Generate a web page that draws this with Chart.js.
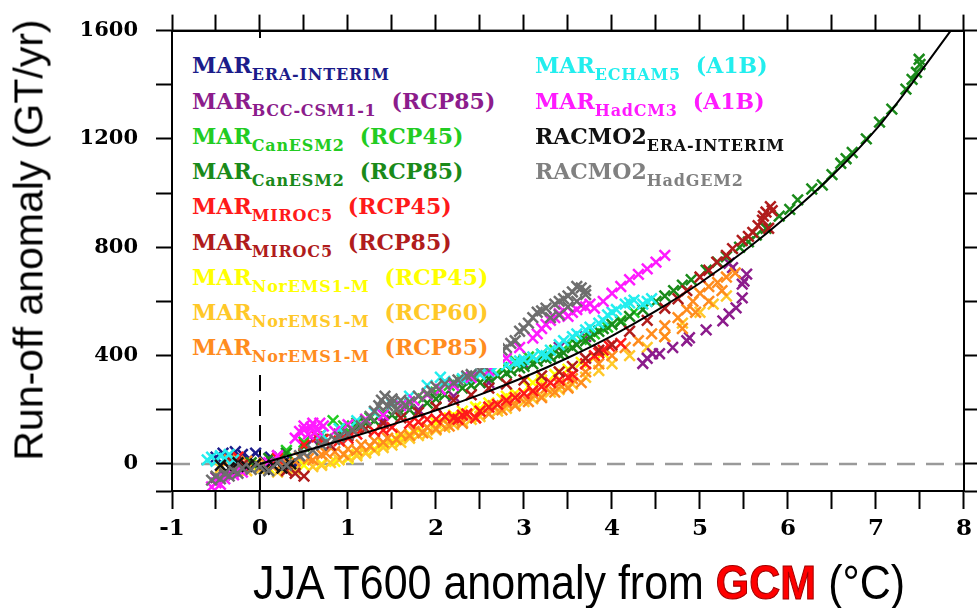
<!DOCTYPE html>
<html lang="en">
<head>
<meta charset="UTF-8">
<title>Run-off anomaly vs JJA T600 anomaly</title>
<script src="https://cdn.jsdelivr.net/npm/chart.js@4"></script>
<style>
  body { margin: 0; background: #fff; }
  #wrap { position: relative; width: 978px; height: 608px; overflow: hidden; }
  #chart { position: absolute; left: 0; top: 0; }
  #legbox { position: absolute; left: 174px; top: 38px; width: 329px; height: 330px; background: #fff; }
  .leg { position: absolute; font-family: "DejaVu Serif", serif; font-weight: bold; font-size: 22px;
         line-height: 22px; white-space: nowrap; }
  .leg sub { font-size: 16px; vertical-align: -7px; line-height: 0; letter-spacing: 0.8px; }
  .leg .scen { margin-left: 15px; }
  #ytitle { position: absolute; left: 29px; top: 240px; transform: translate(-50%, -50%) rotate(-90deg);
            font-family: "Liberation Sans", Arial, sans-serif; font-size: 41px; line-height: 1; white-space: nowrap; }
  #xtitle { position: absolute; left: 253px; top: 559px; transform: scaleY(1.12); transform-origin: left top;
            font-family: "Liberation Sans", Arial, sans-serif; font-size: 43px; line-height: 1; white-space: nowrap; }
  #xtitle .gcm { font-weight: bold; color: #ff0000; -webkit-text-stroke: 1px #a00000; }
</style>
</head>
<body>
<div id="wrap">
  <canvas id="chart" width="978" height="608"></canvas>
  <div id="legbox"></div>
  <div id="legend"></div>
  <div id="ytitle">Run-off anomaly (GT/yr)</div>
  <div id="xtitle">JJA T600 anomaly from <span class="gcm">GCM</span> (°C)</div>
</div>

<script>
// ---- data: [T600 anomaly (°C), run-off anomaly (GT/yr)] ----
const marEraInterim = [[-0.5,25],[-0.42,40],[-0.35,30],[-0.28,45],[-0.2,35],[-0.12,20],[-0.05,40],[0.05,10],[0.12,25],[0.2,5],[0.3,15],[0.4,-5]];
const marBcc85 = [[-0.5,-50],[-0.4,-40],[-0.3,-20],[0.2,30],[0.6,90],[1.0,120],[1.4,160],[1.8,200],[2.2,250],[2.6,300],[3.0,370],[3.4,430],[3.7,470],
  [4.35,371],[4.4,390],[4.46,407],[4.54,407],[4.69,430],[4.85,455],[4.88,466],[5.07,495],[5.26,528],[5.33,554],[5.41,576],[5.48,613],[5.48,664],[5.5,675],[5.53,701],[5.37,725],[5.33,741]];
const marCan45 = [[0.3,50],[0.5,80],[0.7,110],[0.83,160],[0.95,140],[1.1,150],[1.25,170],[1.4,185],[1.55,200],[1.7,220],[1.85,240],[2.0,265],[2.15,290],[2.3,310],
  [2.45,320],[2.6,335],[2.75,355],[2.9,380],[3.05,395],[3.2,405],[3.35,420],[3.5,440],[3.65,460],[3.8,480],[3.95,505],[4.1,530],[4.25,560]];
const marCan85 = [[-0.1,5],[0.1,20],[0.3,40],[0.5,65],[0.7,90],[0.9,110],[1.1,135],[1.3,160],[1.5,180],[1.7,200],[1.9,225],[2.1,255],[2.3,280],[2.5,300],[2.7,325],
  [2.85,345],[3.0,360],[3.15,380],[3.3,395],[3.45,410],[3.6,440],[3.75,470],[3.9,500],[4.0,515],[4.1,525],[4.2,545],[4.35,570],[4.5,600],[4.6,620],[4.7,640],
  [4.8,660],[4.9,680],[5.07,715],[5.2,745],[5.3,765],[5.45,800],[5.55,820],[5.64,845],[5.75,870],[5.9,915],[6.02,940],[6.11,975],[6.27,1015],[6.39,1030],
  [6.5,1068],[6.6,1110],[6.66,1127],[6.73,1150],[6.89,1200],[7.04,1262],[7.18,1310],[7.34,1384],[7.41,1420],[7.46,1446],[7.49,1494],[7.5,1475],
  [1.2,150],[1.6,190],[2.0,240],[2.4,290],[2.6,315],[2.8,335],[2.95,355],[3.1,370],[3.25,390],[3.4,405],[3.55,430],[3.7,455],[3.85,490]];
const marMiroc45 = [[-0.32,10],[-0.25,25],[0.2,20],[0.5,70],[0.65,100],[0.72,90],[0.9,85],[1.1,110],[1.3,120],[1.5,135],[1.7,150],[1.9,165],[2.1,175],[2.25,165],
  [2.35,185],[2.45,170],[2.6,210],[2.8,235],[3.0,260],[3.2,285],[3.4,310],[3.55,330],[3.7,370],[3.8,400],[3.9,420],[3.97,435],[4.1,445],
  [1.0,95],[1.4,125],[1.8,155],[2.0,165],[2.2,170],[2.3,180],[2.5,195],[2.7,220],[2.9,245],[3.1,270],[3.3,300],[3.5,320],[3.85,410]];
const marMiroc85 = [[-0.38,15],[-0.3,5],[-0.2,-5],[0.3,-25],[0.4,-35],[0.5,-45],[0.8,70],[1.0,105],[1.2,130],[1.4,150],[1.6,170],[1.8,190],[2.0,210],[2.2,235],
  [2.4,255],[2.6,280],[2.8,295],[3.0,310],[3.2,325],[3.4,340],[3.55,360],[3.7,390],[3.85,420],[4.0,440],[4.2,490],[4.4,530],[4.6,575],[4.75,610],[4.85,640],
  [5.0,690],[5.1,715],[5.19,745],[5.3,770],[5.37,795],[5.48,825],[5.55,840],[5.6,855],[5.66,880],[5.71,900],[5.75,930],[5.8,950],[5.72,915],[5.78,870],[5.82,935]];
const marNor45 = [[-0.25,5],[-0.1,-5],[0.1,-15],[0.3,-10],[0.5,-5],[0.7,0],[0.85,10],[1.0,20],[1.2,45],[1.4,70],[1.6,95],[1.8,125],[2.0,150],[2.15,170],[2.3,195],
  [2.45,210],[2.6,225],[2.75,240],[2.9,260],[3.05,285],[3.2,310],[3.35,330],[3.5,350],[3.65,375],[3.8,395],[3.9,410],
  [1.1,35],[1.3,55],[1.5,85],[1.7,110],[1.9,135],[2.2,180],[2.5,205],[2.8,250],[3.1,300],[3.4,340]];
const marNor60 = [[-0.45,-15],[-0.3,-10],[-0.15,-25],[0.0,-20],[0.2,-30],[0.4,-20],[0.6,-10],[0.8,5],[1.0,25],[1.2,40],[1.4,60],[1.6,80],[1.8,105],[2.0,125],
  [2.2,145],[2.4,165],[2.6,185],[2.8,205],[3.0,230],[3.2,250],[3.4,275],[3.55,295],[3.7,320],[3.85,345],[4.0,370],[4.2,400],[4.4,430],[4.6,470],[4.8,520],
  [5.0,560],[5.15,590],[5.3,620],
  [0.3,-15],[0.7,-5],[0.9,15],[1.1,30],[1.3,50],[1.5,70],[1.7,95],[1.9,110],[2.1,135],[2.3,155],[2.5,175],[2.7,195],[2.9,220],[3.1,240],[3.3,265],[3.5,285]];
const marNor85 = [[-0.35,15],[-0.25,0],[-0.15,10],[-0.05,-5],[0.05,5],[0.15,-10],[0.25,0],[0.4,10],[0.55,20],[0.7,35],[0.85,45],[1.0,55],[1.15,70],[1.3,85],
  [1.45,95],[1.6,110],[1.75,120],[1.9,135],[2.05,150],[2.2,160],[2.35,180],[2.5,195],[2.65,215],[2.8,225],[2.95,245],[3.1,260],[3.25,280],[3.4,295],[3.55,315],
  [3.7,340],[3.85,370],[4.0,400],[4.15,430],[4.3,455],[4.45,480],[4.6,510],[4.75,540],[4.85,570],[4.92,600],[5.0,630],[5.1,655],[5.2,670],[5.3,690],[5.4,705],
  [5.25,640],[5.1,600],[4.95,560],[4.8,500],[4.6,470],
  [0.3,5],[0.45,25],[0.6,15],[0.75,40],[0.95,35],[1.1,50],[1.25,65],[1.4,80],[1.55,90],[1.7,105],[1.85,115],[2.0,130],[2.15,140],[2.3,150],[2.45,170],
  [2.6,185],[2.75,200],[2.9,215],[3.05,230],[3.2,245],[3.35,265],[3.5,280],[3.65,300]];
const marEcham5 = [[-0.6,15],[-0.55,25],[-0.5,10],[-0.45,30],[-0.4,20],[-0.35,35],[-0.3,15],[0.7,110],[0.9,130],[1.1,160],[1.3,190],[1.5,220],[1.7,250],[1.9,290],
  [2.05,320],[2.2,300],[2.35,320],[2.5,330],[2.65,345],[2.8,365],[2.95,380],[3.1,395],[3.25,400],[3.4,440],[3.55,470],[3.7,495],[3.85,520],[3.95,550],[4.05,570],
  [4.15,590],[4.25,605],[4.35,590],[4.45,610],
  [2.1,305],[2.3,315],[2.6,340],[2.9,375],[3.0,385],[3.2,405],[3.3,420],[3.45,455],[3.6,480],[3.75,505],[3.9,530],[4.0,560],[4.2,595],[4.4,600]];
const marHadcm3 = [[-0.55,-85],[-0.5,-70],[-0.45,-75],[-0.4,-55],[-0.3,-40],[-0.2,-30],[0.1,5],[0.2,30],[0.4,95],[0.45,120],[0.5,140],[0.55,110],[0.6,150],
  [0.65,125],[0.72,140],[0.85,120],[1.0,145],[1.2,165],[1.4,180],[1.6,215],[1.75,235],[1.9,255],[2.05,275],[2.2,290],[2.4,320],[2.6,345],[2.8,390],[2.95,430],
  [3.1,465],[3.2,500],[3.3,530],[3.4,555],[3.5,545],[3.6,570],[3.7,580],[3.8,575],[3.9,600],[4.0,630],[4.1,655],[4.2,680],[4.3,700],[4.4,720],[4.5,745],[4.6,770],
  [0.5,125],[0.58,135],[0.62,115],[0.68,150],[3.15,480],[3.25,515],[3.35,540],[3.45,565],[3.55,560],[3.65,585],[3.75,590]];
const racmoEra = [[-0.45,-5],[-0.35,-15],[-0.25,5],[-0.15,-10],[-0.05,0],[0.05,-20],[0.15,-5],[0.25,-15],[0.35,0]];
const racmoHadgem2 = [[-0.55,-60],[-0.5,-45],[-0.45,-55],[-0.4,-35],[-0.35,-45],[-0.3,-25],[-0.25,-35],[-0.2,-15],[-0.1,-20],[0.0,-10],[0.1,-25],[0.2,5],[0.3,-5],
  [0.45,30],[0.6,50],[0.75,80],[0.9,100],[1.05,125],[1.2,160],[1.3,195],[1.38,235],[1.45,215],[1.5,240],[1.55,200],[1.65,215],[1.8,250],[1.95,270],[2.1,295],
  [2.25,310],[2.4,330],[2.5,345],[2.6,380],[2.7,400],[2.8,430],[2.9,455],[2.95,490],[3.05,520],[3.15,560],[3.25,575],[3.35,590],[3.45,610],[3.5,580],[3.55,635],
  [3.6,600],[3.65,650],[3.7,625],[3.4,550],[3.3,540],
  [0.5,40],[0.7,70],[0.85,90],[1.0,110],[1.15,140],[1.25,175],[1.35,215],[1.42,250],[1.5,225],[1.6,235],[1.7,230],[1.9,260],[2.0,285],[2.2,300],[2.35,325],
  [2.55,360],[2.65,395],[2.75,420],[2.85,445],[3.0,500],[3.1,540],[3.2,565],[3.4,600],[3.5,620],[3.6,655],[3.7,640]];

// fitted curve
const fitX = [0, 0.5, 1, 1.5, 2, 2.5, 3, 3.5, 4, 4.5, 5, 5.5, 6, 6.5, 7, 7.5, 7.85];
const fitY = [0, 47, 95, 145, 198, 256, 320, 392, 473, 565, 668, 785, 917, 1064, 1235, 1445, 1600];

// zero reference lines
const zeroLineX = [-1, 8];
const zeroLineY = [-100, 1600];

// legend: name, subscript, scenario, colour (order as in the figure)
const seriesMain = ['MAR','MAR','MAR','MAR','MAR','MAR','MAR','MAR','MAR','MAR','MAR','RACMO2','RACMO2'];
const seriesSub  = ['ERA-INTERIM','BCC-CSM1-1','CanESM2','CanESM2','MIROC5','MIROC5','NorEMS1-M','NorEMS1-M','NorEMS1-M','ECHAM5','HadCM3','ERA-INTERIM','HadGEM2'];
const seriesScen = ['','(RCP85)','(RCP45)','(RCP85)','(RCP45)','(RCP85)','(RCP45)','(RCP60)','(RCP85)','(A1B)','(A1B)','',''];
const seriesColors = ['#1c1c8a','#8c1c8c','#22cc22','#1a8a1a','#ff1a1a','#b01c1c','#ffff00','#ffc828','#ff8c1e','#22eeee','#ff1aff','#111111','#6e6e6e'];
const seriesData = [marEraInterim, marBcc85, marCan45, marCan85, marMiroc45, marMiroc85, marNor45, marNor60, marNor85, marEcham5, marHadcm3, racmoEra, racmoHadgem2];
// drawing order (lower = on top)
const seriesOrder = [13, 10, 8, 7, 6, 5, 12, 11, 9, 4, 3, 2, 1];

// ---- legend (html text) ----
const legend = document.getElementById('legend');
seriesMain.forEach((m, i) => {
    const col = i < 9 ? 0 : 1;
    const row = i < 9 ? i : i - 9;
    const el = document.createElement('div');
    el.className = 'leg';
    el.style.left = (col === 0 ? 192 : 535) + 'px';
    el.style.top = (73 + row * 35.25 - 18.6) + 'px';
    el.style.color = i === 12 ? '#808080' : seriesColors[i];
    el.innerHTML = m + '<sub>' + seriesSub[i] + '</sub>' + (seriesScen[i] ? '<span class="scen">' + seriesScen[i] + '</span>' : '');
    legend.appendChild(el);
});

// ---- chart ----
const toXY = arr => arr.map(p => ({ x: p[0], y: p[1] }));

const datasets = seriesData.map((d, i) => ({
    label: seriesMain[i] + ' ' + seriesSub[i] + ' ' + seriesScen[i],
    data: toXY(d),
    pointStyle: 'crossRot',
    pointRadius: 7.5,
    pointBorderWidth: 2.5,
    borderColor: seriesColors[i],
    backgroundColor: seriesColors[i],
    order: seriesOrder[i]
}));

datasets.push({
    type: 'line',
    label: 'fit',
    data: fitX.map((x, i) => ({ x: x, y: fitY[i] })),
    borderColor: '#000',
    borderWidth: 2,
    pointRadius: 0,
    cubicInterpolationMode: 'monotone',
    fill: false,
    order: 0
});
datasets.push({
    type: 'line',
    label: 'y=0',
    data: zeroLineX.map(x => ({ x: x, y: 0 })),
    borderColor: '#9a9a9a',
    borderWidth: 2.5,
    borderDash: [18, 11],
    pointRadius: 0,
    order: 20
});
datasets.push({
    type: 'line',
    label: 'x=0',
    data: zeroLineY.map(y => ({ x: 0, y: y })),
    borderColor: '#000',
    borderWidth: 2,
    borderDash: [16, 9],
    pointRadius: 0,
    order: 21
});

// black frame round the plot area
const frame = {
    id: 'frame',
    afterDraw(chart) {
        const { ctx, chartArea: a } = chart;
        ctx.save();
        ctx.strokeStyle = '#000';
        ctx.lineWidth = 2;
        ctx.strokeRect(a.left, a.top, a.right - a.left, a.bottom - a.top);
        ctx.restore();
    }
};

const tickFont = { family: "'DejaVu Serif', serif", weight: 'bold', size: 21 };
const xTickFont = { family: "'DejaVu Serif', serif", weight: 'bold', size: 23 };

new Chart(document.getElementById('chart'), {
    type: 'scatter',
    data: { datasets: datasets },
    plugins: [frame],
    options: {
        responsive: false,
        animation: false,
        layout: { padding: { left: 0, right: 13, top: 28, bottom: 0 } },
        plugins: { legend: { display: false }, tooltip: { enabled: false } },
        scales: {
            x: {
                type: 'linear', position: 'bottom', min: -1, max: 8,
                ticks: { stepSize: 0.5, maxTicksLimit: 30, autoSkip: false, maxRotation: 0, padding: 6,
                         color: '#000', font: xTickFont,
                         callback: v => Number.isInteger(v) ? String(v) : '' },
                grid: { drawOnChartArea: false, tickLength: 18, tickWidth: 2, tickColor: '#000' },
                border: { color: '#000', width: 2 },
                afterFit: s => { s.height = 117; }
            },
            x2: {
                type: 'linear', position: 'top', min: -1, max: 8,
                ticks: { display: false, stepSize: 0.5, maxTicksLimit: 30 },
                grid: { drawOnChartArea: false, tickLength: 16, tickWidth: 2, tickColor: '#000' },
                border: { color: '#000', width: 2 },
                afterFit: s => { s.height = 0; }
            },
            y: {
                type: 'linear', position: 'left', min: -100, max: 1600,
                ticks: { stepSize: 200, maxTicksLimit: 20, autoSkip: false, padding: 18, color: '#000', font: tickFont,
                         callback: v => v % 400 === 0 ? String(v) : '' },
                grid: { drawOnChartArea: false, tickLength: 16, tickWidth: 2, tickColor: '#000' },
                border: { color: '#000', width: 2 },
                afterFit: s => { s.width = 172; }
            },
            y2: {
                type: 'linear', position: 'right', min: -100, max: 1600,
                ticks: { display: false, stepSize: 200, maxTicksLimit: 20 },
                grid: { drawOnChartArea: false, tickLength: 13, tickWidth: 2, tickColor: '#000' },
                border: { color: '#000', width: 2 },
                afterFit: s => { s.width = 0; }
            }
        }
    }
});
</script>
</body>
</html>
